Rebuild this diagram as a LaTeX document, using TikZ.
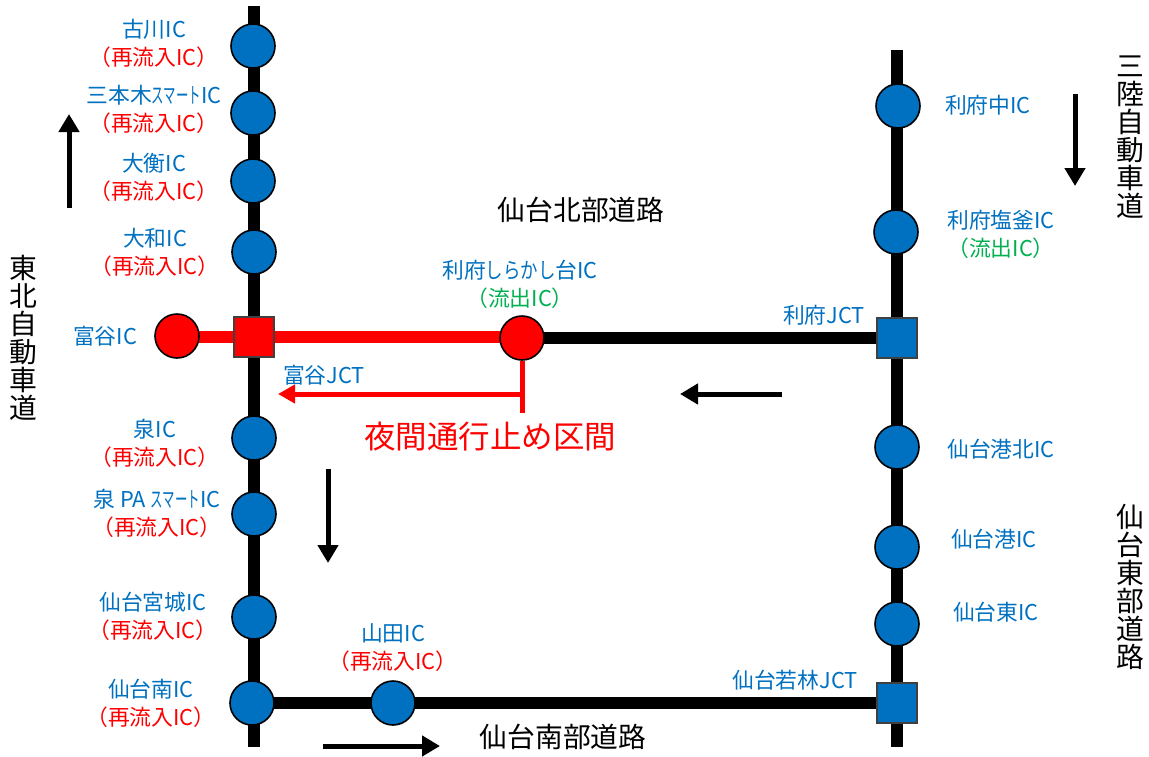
\documentclass[tikz,border=0pt]{standalone}
\usepackage{fontspec}
\setmainfont{Noto Sans CJK JP}
\usetikzlibrary{arrows.meta,backgrounds}
\definecolor{icblue}{RGB}{0,112,192}
\definecolor{icgreen}{RGB}{0,176,80}
\definecolor{icred}{RGB}{255,0,0}
\newcommand{\sm}{\scalebox{0.57}[1]{スマート}}
\newcommand{\re}{\textcolor{icred}{（再流入IC）}}
\newcommand{\ryu}{\textcolor{icgreen}{（流出IC）}}
\tikzset{
  x=1pt,y=-1pt,
  ic/.style={circle,draw=black,line width=1.6pt,fill=icblue,minimum size=44pt,inner sep=0pt},
  icr/.style={ic,fill=icred},
  jct/.style={rectangle,draw=black!75,line width=1.2pt,fill=icblue,minimum size=40pt,inner sep=0pt},
  jctr/.style={jct,fill=icred},
  road/.style={line width=12pt,black},
  redroad/.style={line width=12pt,icred},
  lab/.style={inner sep=0pt,align=center,text=icblue,font=\fontsize{21.8}{28}\selectfont},
  road name/.style={inner sep=0pt,align=center,text=black,font=\fontsize{27.8}{28}\selectfont},
  vert name/.style={road name,text width=30pt},
  flow/.style={line width=5pt,black,-{Triangle[length=18pt,width=20pt]}},
  redflow/.style={line width=5pt,icred,-{Triangle[length=17pt,width=18pt]}},
}
\begin{document}
\begin{tikzpicture}
\useasboundingbox (0,0) rectangle (1149,756);
\coordinate (ltop) at (254,6);
\coordinate (lbot) at (254,747);
\coordinate (rtop) at (897,50);
\coordinate (rbot) at (897,747);
\node[ic] (furukawa) at (253,46) {};
\node[ic] (sanbongi) at (253,113) {};
\node[ic] (taiko) at (253,181) {};
\node[ic] (yamato) at (254,252) {};
\node[icr] (tomiyaic) at (177,336) {};
\node[jctr] (tomiyajct) at (254,337) {};
\node[icr] (shirakashi) at (522,338) {};
\node[jct] (rifujct) at (897,338) {};
\node[ic] (izumi) at (254,438) {};
\node[ic] (izumipa) at (254,514) {};
\node[ic] (miyagi) at (254,617) {};
\node[ic] (minami) at (252,703) {};
\node[ic] (yamada) at (393,703) {};
\node[jct] (wakabayashi) at (897,703) {};
\node[ic] (rifunaka) at (898,106) {};
\node[ic] (shiogama) at (896,232) {};
\node[ic] (kohoku) at (897,447) {};
\node[ic] (minato) at (897,547) {};
\node[ic] (higashi) at (897,624) {};
\begin{scope}[on background layer]
\draw[road] (ltop) -- (lbot);
\draw[road] (rtop) -- (rbot);
\draw[road] (shirakashi.center) -- (rifujct.center);
\draw[road] (minami.center) -- (wakabayashi.center);
\draw[redroad] (tomiyaic.center) ++(0,1) -- (shirakashi.center |- tomiyajct.center);
\end{scope}
\node[lab] at (154,43) {古川IC\\\re};
\node[lab] at (154,109) {三本木\sm IC\\\re};
\node[lab] at (154,177) {大衡IC\\\re};
\node[lab] at (155,252) {大和IC\\\re};
\node[lab] at (105,336) {富谷IC};
\node[lab] at (155,443) {泉IC\\\re};
\node[lab] at (157,513) {泉 PA \sm IC\\\re};
\node[lab] at (153,616) {仙台宮城IC\\\re};
\node[lab] at (151,703) {仙台南IC\\\re};
\node[lab] at (393,648) {山田IC\\\re};
\node[lab] at (520,284) {利府\scalebox{0.8}[1]{しらかし}台IC\\\ryu};
\node[lab] at (324,375) {富谷JCT};
\node[lab] at (824,315) {利府JCT};
\node[lab] at (988,105) {利府中IC};
\node[lab] at (1001,234) {利府塩釜IC\\\ryu};
\node[lab] at (1001,449) {仙台港北IC};
\node[lab] at (994,539) {仙台港IC};
\node[lab] at (996,612) {仙台東IC};
\node[lab] at (795,680) {仙台若林JCT};
\node[road name] at (581,210) {仙台北部道路};
\node[road name] at (563,737) {仙台南部道路};
\node[vert name] at (23,338) {東\\北\\自\\動\\車\\道};
\node[vert name] at (1130,137) {三\\陸\\自\\動\\車\\道};
\node[vert name] at (1130,587) {仙\\台\\東\\部\\道\\路};
\node[inner sep=0pt,text=icred,font=\fontsize{31.5}{36}\selectfont] (yakan) at (490,437) {夜間通行止め区間};
\coordinate (a1s) at (69,208); \coordinate (a1e) at (69,114);
\coordinate (a2s) at (1075,94); \coordinate (a2e) at (1075,186);
\coordinate (a3s) at (782,394); \coordinate (a3e) at (680,394);
\coordinate (a4s) at (328,469); \coordinate (a4e) at (328,563);
\coordinate (a5s) at (323,746); \coordinate (a5e) at (440,746);
\draw[flow] (a1s) -- (a1e);
\draw[flow] (a2s) -- (a2e);
\draw[flow] (a3s) -- (a3e);
\draw[flow] (a4s) -- (a4e);
\draw[flow] (a5s) -- (a5e);
\coordinate (rs) at (522,394); \coordinate (re) at (278,394);
\coordinate (rb) at (522,413);
\draw[redflow] (rs) -- (re);
\draw[line width=5pt,icred] (shirakashi.south) -- (rb);
\end{tikzpicture}
\end{document}
